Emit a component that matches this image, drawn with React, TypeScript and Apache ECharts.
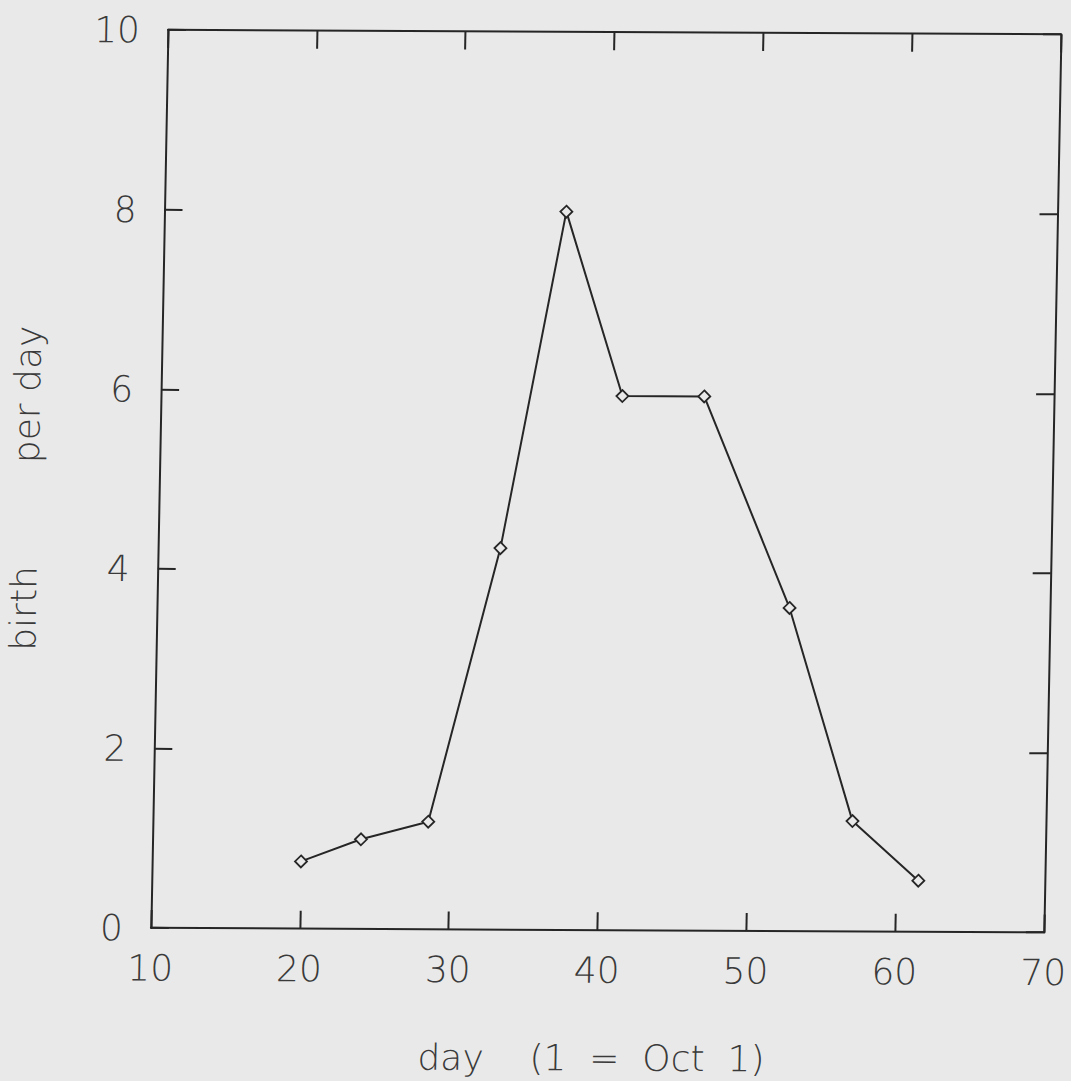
import React, { useEffect, useRef } from "react";
import * as echarts from "echarts";

// Data
const days = [20, 24, 28.5, 33, 37, 41, 46.5, 52.5, 57, 61.5];
const births = [0.75, 1.0, 1.2, 4.25, 8.0, 5.95, 5.95, 3.6, 1.23, 0.57];

const xMin = 10;
const xMax = 70;
const xStep = 10;
const yMin = 0;
const yMax = 10;
const yStep = 2;

const NB = "\u00a0";
const xTitle = `day${NB.repeat(4)}(1${NB.repeat(2)}=${NB.repeat(2)}Oct${NB.repeat(2)}1)`;
const yTitle = `birth${NB.repeat(9)}per${NB}day`;

const FONT = "'DejaVu Sans', 'Liberation Sans', sans-serif";
const TEXT_COLOR = "#3a3a3a";
const LINE_COLOR = "#262626";
const BG = "#e9e9e9";

export default function App() {
  const ref = useRef<HTMLDivElement>(null);

  useEffect(() => {
    if (!ref.current) return;
    const chart = echarts.init(ref.current, null, { renderer: "svg" });

    const gridLeft = 168.5;
    const gridTop = 29.2;
    const gridW = 893;
    const gridH = 898;

    const axisLine = { show: true, onZero: false, lineStyle: { color: LINE_COLOR, width: 2 } };
    const tick = { show: true, inside: true, length: 18, lineStyle: { color: LINE_COLOR, width: 2 } };
    const label = { color: TEXT_COLOR, fontSize: 36, fontFamily: FONT, fontWeight: 200 as any };

    chart.setOption({
      animation: false,
      backgroundColor: BG,
      grid: {
        left: gridLeft,
        top: gridTop,
        width: gridW,
        height: gridH,
        containLabel: false,
        outerBoundsMode: "none",
      },
      xAxis: [
        {
          type: "value",
          position: "bottom",
          min: xMin,
          max: xMax,
          interval: xStep,
          axisLine,
          axisTick: tick,
          splitLine: { show: false },
          axisLabel: { ...label, margin: 22, showMinLabel: true, showMaxLabel: true },
        },
        {
          type: "value",
          position: "top",
          min: xMin,
          max: xMax,
          interval: xStep,
          axisLine,
          axisTick: tick,
          splitLine: { show: false },
          axisLabel: { show: false },
        },
      ],
      yAxis: [
        {
          type: "value",
          position: "left",
          min: yMin,
          max: yMax,
          interval: yStep,
          axisLine,
          axisTick: tick,
          splitLine: { show: false },
          axisLabel: { ...label, margin: 28 },
        },
        {
          type: "value",
          position: "right",
          min: yMin,
          max: yMax,
          interval: yStep,
          axisLine,
          axisTick: tick,
          splitLine: { show: false },
          axisLabel: { show: false },
        },
      ],
      series: [
        {
          type: "line",
          data: days.map((d, i) => [d, births[i]]),
          xAxisIndex: 0,
          yAxisIndex: 0,
          symbol: "diamond",
          symbolSize: 12,
          showSymbol: true,
          lineStyle: { color: LINE_COLOR, width: 2 },
          itemStyle: { color: BG, borderColor: LINE_COLOR, borderWidth: 1.8 },
          z: 3,
        },
      ],
      graphic: [
        {
          type: "text",
          x: 611,
          y: 1055,
          style: {
            text: xTitle,
            fill: TEXT_COLOR,
            font: `200 36px ${FONT}`,
            align: "center",
            verticalAlign: "middle",
          },
        },
        {
          type: "text",
          x: 35,
          y: 488,
          rotation: Math.PI / 2,
          style: {
            text: yTitle,
            fill: TEXT_COLOR,
            font: `200 36px ${FONT}`,
            align: "center",
            verticalAlign: "middle",
          },
        },
      ],
    });

    return () => chart.dispose();
  }, []);

  return (
    <div
      style={{
        position: "fixed",
        left: 0,
        top: 0,
        width: 1071,
        height: 1081,
        background: BG,
        overflow: "hidden",
      }}
    >
      <div
        ref={ref}
        style={{
          position: "absolute",
          left: 0,
          top: 0,
          width: 1130,
          height: 1100,
          transformOrigin: "0 0",
          transform: "matrix(1, 0.005, -0.019, 1, 0, 0)",
        }}
      />
    </div>
  );
}
